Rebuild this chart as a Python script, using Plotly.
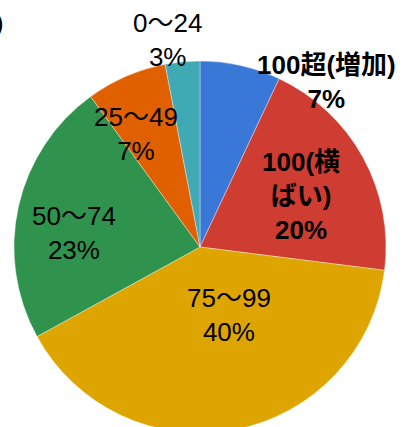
import plotly.graph_objects as go

# Share of respondents by index band (clockwise from 12 o'clock)
categories = ["100超(増加)", "100(横ばい)", "75～99", "50～74", "25～49", "0～24"]
shares = [7, 20, 40, 23, 7, 3]
label_lines = ["100超(増加)", "100(横<br>ばい)", "75～99", "50～74", "25～49", "0～24"]
bold_labels = [True, True, False, False, False, False]

colors = ["#3a78d8", "#cf3c31", "#dea500", "#2f934e", "#e06000", "#3fa9b4"]

W, H = 406, 434
CX, CY, R = 200, 247, 186  # pie centre and radius in pixels

# label block centres in pixels
label_pos = [(326, 82), (300.5, 196), (229.5, 314.5), (73.5, 233), (135.5, 134), (167, 40)]

FONT = "Liberation Sans, Arial, Noto Sans CJK JP, sans-serif"

fig = go.Figure(
    go.Pie(
        labels=categories,
        values=shares,
        sort=False,
        direction="clockwise",
        rotation=0,
        textinfo="none",
        hoverinfo="label+percent",
        marker=dict(colors=colors, line=dict(color="rgba(255,255,255,0.6)", width=0.6)),
        domain=dict(
            x=[(CX - R) / W, (CX + R) / W],
            y=[(H - (CY + R)) / H, (H - (CY - R)) / H],
        ),
        showlegend=False,
    )
)

annotations = []
for text, val, bold, (px, py) in zip(label_lines, shares, bold_labels, label_pos):
    body = f"{text}<br>{val}%"
    if bold:
        body = f"<b>{body}</b>"
    annotations.append(
        dict(
            text=body,
            x=px / W,
            y=(H - py) / H,
            xref="paper",
            yref="paper",
            xanchor="center",
            yanchor="middle",
            showarrow=False,
            font=dict(family=FONT, size=26, color="#000000"),
        )
    )

# closing bracket of the unit note at the top-left edge
annotations.append(
    dict(
        text=")",
        x=6 / W,
        y=(H - 23) / H,
        xref="paper",
        yref="paper",
        xanchor="right",
        yanchor="middle",
        showarrow=False,
        font=dict(family=FONT, size=26, color="#000000"),
    )
)

fig.update_layout(
    width=W,
    height=H,
    margin=dict(l=0, r=0, t=0, b=0),
    paper_bgcolor="white",
    plot_bgcolor="white",
    annotations=annotations,
)

fig.write_html(
    "out.html",
    post_script="document.documentElement.style.overflow='hidden';document.body.style.overflow='hidden';document.body.style.margin='0';",
)
